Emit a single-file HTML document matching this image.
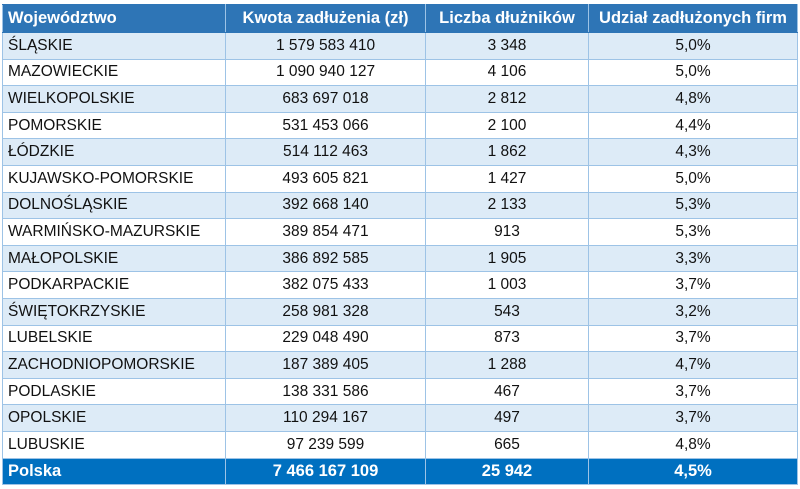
<!DOCTYPE html>
<html><head><meta charset="utf-8"><style>
html,body{margin:0;padding:0;background:#fff;width:800px;height:489px;overflow:hidden}
table{position:absolute;left:2px;top:4px;border-collapse:collapse;width:795px;font-family:"Liberation Sans",sans-serif;font-size:15.5px;color:#111;table-layout:fixed}
td,th{height:25.6px;padding:0 4px;border:1px solid #9dc3e6;text-align:center;white-space:nowrap;overflow:hidden}
th{background:#2e75b6;color:#fff;font-weight:bold;font-size:16.5px;height:27px;border-color:#2e75b6 #9dc3e6}
td:first-child,th:first-child{text-align:left;padding-left:5px}
tr:nth-child(even) td{background:#ddebf7}
tr.tot td{background:#0070c0;color:#fff;font-weight:bold;font-size:16.5px;border-color:#9dc3e6}
</style></head><body>
<table>
<colgroup><col style="width:223px"><col style="width:200px"><col style="width:163px"><col style="width:209px"></colgroup>
<tr><th>Województwo</th><th>Kwota zadłużenia (zł)</th><th>Liczba dłużników</th><th>Udział zadłużonych firm</th></tr>
<tr><td>ŚLĄSKIE</td><td>1 579 583 410</td><td>3 348</td><td>5,0%</td></tr>
<tr><td>MAZOWIECKIE</td><td>1 090 940 127</td><td>4 106</td><td>5,0%</td></tr>
<tr><td>WIELKOPOLSKIE</td><td>683 697 018</td><td>2 812</td><td>4,8%</td></tr>
<tr><td>POMORSKIE</td><td>531 453 066</td><td>2 100</td><td>4,4%</td></tr>
<tr><td>ŁÓDZKIE</td><td>514 112 463</td><td>1 862</td><td>4,3%</td></tr>
<tr><td>KUJAWSKO-POMORSKIE</td><td>493 605 821</td><td>1 427</td><td>5,0%</td></tr>
<tr><td>DOLNOŚLĄSKIE</td><td>392 668 140</td><td>2 133</td><td>5,3%</td></tr>
<tr><td>WARMIŃSKO-MAZURSKIE</td><td>389 854 471</td><td>913</td><td>5,3%</td></tr>
<tr><td>MAŁOPOLSKIE</td><td>386 892 585</td><td>1 905</td><td>3,3%</td></tr>
<tr><td>PODKARPACKIE</td><td>382 075 433</td><td>1 003</td><td>3,7%</td></tr>
<tr><td>ŚWIĘTOKRZYSKIE</td><td>258 981 328</td><td>543</td><td>3,2%</td></tr>
<tr><td>LUBELSKIE</td><td>229 048 490</td><td>873</td><td>3,7%</td></tr>
<tr><td>ZACHODNIOPOMORSKIE</td><td>187 389 405</td><td>1 288</td><td>4,7%</td></tr>
<tr><td>PODLASKIE</td><td>138 331 586</td><td>467</td><td>3,7%</td></tr>
<tr><td>OPOLSKIE</td><td>110 294 167</td><td>497</td><td>3,7%</td></tr>
<tr><td>LUBUSKIE</td><td>97 239 599</td><td>665</td><td>4,8%</td></tr>
<tr class="tot"><td>Polska</td><td>7 466 167 109</td><td>25 942</td><td>4,5%</td></tr>
</table>
</body></html>
